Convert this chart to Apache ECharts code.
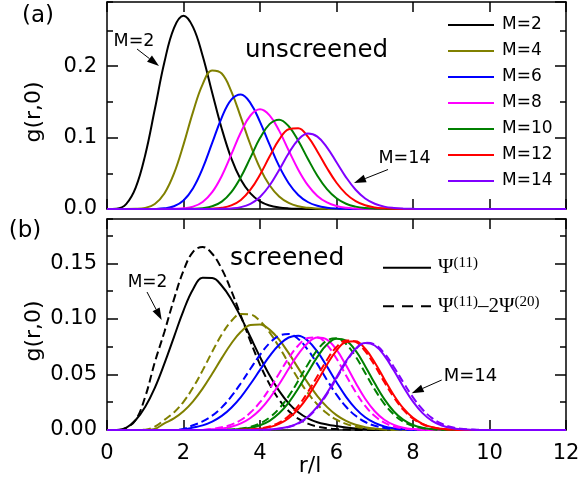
<!DOCTYPE html>
<html><head><meta charset="utf-8">
<script src="https://cdn.jsdelivr.net/npm/echarts@6/dist/echarts.min.js"></script>
<style>html,body{margin:0;padding:0;background:#fff}#c{width:578px;height:483px}</style>
</head><body><div id="c"></div>
<script>
// r/l grid
const r = [0,0.25,0.5,0.75,1,1.25,1.5,1.75,2,2.25,2.5,2.75,3,3.25,3.5,3.75,4,4.25,4.5,4.75,5,5.25,5.5,5.75,6,6.25,6.5,6.75,7,7.25,7.5,7.75,8,8.25,8.5,8.75,9,9.25,9.5,9.75,10,12];

const mNames = ['M=2','M=4','M=6','M=8','M=10','M=12','M=14'];
const colors = ['#000000','#808000','#0000ff','#ff00ff','#008000','#ff0000','#8000ff'];

// (a) unscreened
const a2  = [0,0.0005,0.0069,0.0299,0.0758,0.1397,0.2055,0.2535,0.2707,0.2548,0.2146,0.1629,0.1125,0.0709,0.0410,0.0219,0.0107,0.0049,0.0021,0.0008,0.0003,0,0,0,0,0,0,0,0,0,0,0,0,0,0,0,0,0,0,0,0,0];
const a4  = [0,0,0,0.0002,0.0016,0.0071,0.0217,0.0495,0.0902,0.1361,0.1746,0.1941,0.1898,0.1649,0.1283,0.0900,0.0573,0.0332,0.0175,0.0085,0.0038,0.0016,0.0006,0.0002,0,0,0,0,0,0,0,0,0,0,0,0,0,0,0,0,0,0];
const a6  = [0,0,0,0,0,0.0001,0.0009,0.0039,0.0120,0.0291,0.0568,0.0925,0.1281,0.1533,0.1605,0.1484,0.1221,0.0901,0.0600,0.0361,0.0197,0.0098,0.0045,0.0019,0.0007,0.0003,0,0,0,0,0,0,0,0,0,0,0,0,0,0,0,0];
const a8  = [0,0,0,0,0,0,0,0.0002,0.0009,0.0033,0.0099,0.0236,0.0463,0.0764,0.1075,0.1310,0.1396,0.1312,0.1098,0.0820,0.0551,0.0334,0.0183,0.0092,0.0042,0.0017,0.0007,0.0002,0,0,0,0,0,0,0,0,0,0,0,0,0,0];
const a10 = [0,0,0,0,0,0,0,0,0,0.0002,0.0011,0.0038,0.0104,0.0237,0.0448,0.0720,0.0993,0.1189,0.1251,0.1159,0.0956,0.0704,0.0466,0.0278,0.0150,0.0073,0.0033,0.0013,0.0005,0.0002,0,0,0,0,0,0,0,0,0,0,0,0];
const a12 = [0,0,0,0,0,0,0,0,0,0,0.0001,0.0004,0.0016,0.0050,0.0127,0.0270,0.0481,0.0735,0.0971,0.1117,0.1132,0.1013,0.0807,0.0575,0.0368,0.0212,0.0110,0.0052,0.0022,0.0009,0.0003,0.0001,0,0,0,0,0,0,0,0,0,0];
const a14 = [0,0,0,0,0,0,0,0,0,0,0,0,0.0002,0.0008,0.0026,0.0073,0.0169,0.0329,0.0547,0.0781,0.0971,0.1058,0.1014,0.0864,0.0655,0.0444,0.0270,0.0148,0.0074,0.0033,0.0014,0.0005,0.0002,0,0,0,0,0,0,0,0,0];

// (b) screened, Psi(11) (solid)
const s2  = [0,0,0.002,0.009,0.021,0.038,0.0598,0.0837,0.1076,0.1268,0.137,0.1368,0.1299,0.1176,0.1016,0.0837,0.0658,0.0493,0.0352,0.024,0.016,0.0105,0.007,0.005,0.0035,0.0022,0.0013,0.0007,0.0003,0,0,0,0,0,0,0,0,0,0,0,0,0];
const s4  = [0,0,0,0,0,0.001,0.006,0.0104,0.0168,0.0258,0.0372,0.0506,0.0647,0.0779,0.0884,0.0945,0.0951,0.0904,0.0813,0.0692,0.0557,0.0424,0.0306,0.0208,0.0134,0.0082,0.0047,0.0026,0.0013,0.0006,0.0003,0,0,0,0,0,0,0,0,0,0,0];
const s6  = [0,0,0,0,0,0,0,0,0.0005,0.0022,0.0042,0.0076,0.0127,0.0201,0.0297,0.0414,0.0541,0.0665,0.0768,0.0833,0.0848,0.0804,0.0705,0.0573,0.043,0.0299,0.0193,0.0115,0.0064,0.0032,0.0015,0.0007,0.0003,0,0,0,0,0,0,0,0,0];
const s8  = [0,0,0,0,0,0,0,0,0,0,0,0.0006,0.0014,0.003,0.0059,0.0108,0.0182,0.0285,0.0412,0.0551,0.0683,0.0784,0.0832,0.0814,0.0723,0.0582,0.0425,0.0281,0.0169,0.0092,0.0046,0.002,0.0008,0.0003,0,0,0,0,0,0,0,0];
const s10 = [0,0,0,0,0,0,0,0,0,0,0,0,0,0.0003,0.0009,0.002,0.0043,0.0083,0.015,0.0247,0.0373,0.0518,0.0659,0.0769,0.0822,0.0804,0.0714,0.0575,0.042,0.0278,0.0167,0.0091,0.0045,0.002,0.0008,0.0003,0,0,0,0,0,0];
const s12 = [0,0,0,0,0,0,0,0,0,0,0,0,0,0,0.0002,0.0004,0.0011,0.0026,0.0055,0.0106,0.0188,0.0301,0.0441,0.0588,0.0715,0.0792,0.0799,0.0732,0.0608,0.0458,0.0313,0.0194,0.0109,0.0056,0.0026,0.0011,0.0004,0.0001,0,0,0,0];
const s14 = [0,0,0,0,0,0,0,0,0,0,0,0,0,0,0,0,0.0002,0.0005,0.0013,0.0029,0.0062,0.012,0.021,0.0332,0.0476,0.062,0.0732,0.0783,0.0761,0.067,0.0535,0.0388,0.0255,0.0152,0.0082,0.004,0.0018,0.0007,0.0003,0,0,0];

// (b) screened, Psi(11)-2Psi(20) (dashed)
const d2  = [0,0,0.002,0.009,0.03,0.061,0.0883,0.1176,0.1434,0.1605,0.1648,0.1587,0.145,0.1254,0.1029,0.0799,0.0589,0.0412,0.0273,0.0171,0.0102,0.0057,0.0031,0.0016,0.0008,0.0004,0,0,0,0,0,0,0,0,0,0,0,0,0,0,0,0];
const d4  = [0,0,0,0,0.0003,0.003,0.0091,0.0158,0.0254,0.0382,0.0537,0.0704,0.086,0.0981,0.1044,0.104,0.0981,0.0879,0.0747,0.0602,0.046,0.0334,0.023,0.015,0.0093,0.0055,0.003,0.0016,0.0008,0.0004,0,0,0,0,0,0,0,0,0,0,0,0];
const d6  = [0,0,0,0,0,0,0,0,0.001,0.0043,0.0077,0.0129,0.0204,0.0302,0.0421,0.0551,0.0677,0.0782,0.0848,0.0864,0.082,0.0723,0.0593,0.0451,0.0319,0.0209,0.0128,0.0072,0.0038,0.0019,0.0009,0.0004,0,0,0,0,0,0,0,0,0,0];
const d8  = [0,0,0,0,0,0,0,0,0,0,0,0.0011,0.0024,0.0048,0.009,0.0157,0.025,0.0371,0.0509,0.0647,0.0761,0.0828,0.0834,0.0767,0.0643,0.0491,0.0342,0.0217,0.0125,0.0066,0.0032,0.0014,0.0006,0.0002,0,0,0,0,0,0,0,0];
const d10 = [0,0,0,0,0,0,0,0,0,0,0,0,0,0.0005,0.0013,0.0029,0.006,0.0112,0.0193,0.0305,0.0443,0.059,0.072,0.0806,0.0826,0.0774,0.0661,0.0514,0.0365,0.0236,0.0139,0.0074,0.0036,0.0016,0.0006,0.0002,0,0,0,0,0,0];
const d12 = [0,0,0,0,0,0,0,0,0,0,0,0,0,0,0.0002,0.0006,0.0014,0.0032,0.0067,0.0127,0.0217,0.034,0.0485,0.0631,0.0747,0.0806,0.0793,0.071,0.058,0.0432,0.0293,0.0181,0.0102,0.0052,0.0024,0.001,0.0004,0,0,0,0,0];
const d14 = [0,0,0,0,0,0,0,0,0,0,0,0,0,0,0,0,0.0002,0.0004,0.0012,0.0027,0.0058,0.0114,0.0202,0.0322,0.0465,0.061,0.0727,0.0785,0.077,0.0691,0.0567,0.0427,0.0294,0.0185,0.0107,0.0056,0.0027,0.0012,0.0005,0.0002,0,0];

// axis tick values
const xTicks = [0,2,4,6,8,10,12];
const yTicksA = [0.0,0.1,0.2];
const yTicksB = [0.00,0.05,0.10,0.15];

const unscreened = [a2,a4,a6,a8,a10,a12,a14];
const solidB = [s2,s4,s6,s8,s10,s12,s14];
const dashedB = [d2,d4,d6,d8,d10,d12,d14];
const PSI1 = 'Ψ11', PSI2 = 'Ψ11−2Ψ20';

const FONT = 'DejaVu Sans';
const pts = v => r.map((x, i) => [x, v[i]]);

const series = [];
unscreened.forEach((v, k) => series.push({
  type: 'line', name: mNames[k], xAxisIndex: 0, yAxisIndex: 0, data: pts(v),
  smooth: 0.4, symbol: 'none', showSymbol: false,
  lineStyle: { color: colors[k], width: 2 }, itemStyle: { color: colors[k] }, z: 3 + k
}));
solidB.forEach((v, k) => {
  series.push({
    type: 'line', name: k === 0 ? PSI1 : 'solid ' + mNames[k], xAxisIndex: 2, yAxisIndex: 4, data: pts(v),
    smooth: 0.4, symbol: 'none', showSymbol: false,
    lineStyle: { color: colors[k], width: 2 }, itemStyle: { color: colors[k] }, z: 3 + 2 * k
  });
  series.push({
    type: 'line', name: k === 0 ? PSI2 : 'dashed ' + mNames[k], xAxisIndex: 2, yAxisIndex: 4, data: pts(dashedB[k]),
    smooth: 0.4, symbol: 'none', showSymbol: false,
    lineStyle: { color: colors[k], width: 2, type: [8, 4] }, itemStyle: { color: colors[k] }, z: 4 + 2 * k
  });
});

const axisLine = { show: true, onZero: false, lineStyle: { color: '#000', width: 1.5 } };
function xAx(grid, pos, labels) {
  return {
    type: 'value', gridIndex: grid, position: pos, min: 0, max: 12, interval: 2,
    axisLine, axisTick: { show: true, inside: true, length: 10, lineStyle: { color: '#000', width: 1.5 } },
    axisLabel: { show: labels, color: '#000', fontFamily: FONT, fontSize: 21, margin: 13,
      formatter: v => xTicks.includes(v) ? String(v) : '' },
    splitLine: { show: false }
  };
}
function yAx(grid, pos, max, interval, major, ticks, fmtDigits, name) {
  const o = {
    type: 'value', gridIndex: grid, position: pos, min: 0, max: max, interval: interval,
    axisLine: major ? axisLine : { show: false, onZero: false },
    axisTick: { show: true, inside: true, length: major ? 11 : 6, lineStyle: { color: '#000', width: 1.5 } },
    axisLabel: { show: !!ticks, color: '#000', fontFamily: FONT, fontSize: 21, margin: 10, showMaxLabel: false,
      formatter: v => (ticks && ticks.some(t => Math.abs(t - v) < 1e-9)) ? v.toFixed(fmtDigits) : '' },
    splitLine: { show: false }
  };
  if (name) {
    Object.assign(o, { name: name, nameLocation: 'middle', nameGap: 62, nameRotate: 90, nameMoveOverlap: false,
      nameTextStyle: { color: '#000', fontFamily: FONT, fontSize: 22, padding: [0, 13, 0, 0] } });
  }
  return o;
}

const xAxis = [xAx(0, 'bottom', false), xAx(0, 'top', false), xAx(1, 'bottom', true), xAx(1, 'top', false)];
xAxis[2].name = 'r/l';
xAxis[2].nameLocation = 'middle';
xAxis[2].nameGap = 25;
xAxis[2].nameMoveOverlap = false;
xAxis[2].nameTextStyle = { color: '#000', fontFamily: FONT, fontSize: 22, padding: [0, 53, 0, 0] };

const yAxis = [
  yAx(0, 'left', 0.29, 0.1, true, yTicksA, 1, 'g(r,0)'),
  yAx(0, 'left', 0.29, 0.05, false, null, 1),
  yAx(0, 'right', 0.29, 0.1, true, null, 1),
  yAx(0, 'right', 0.29, 0.05, false, null, 1),
  yAx(1, 'left', 0.19, 0.05, true, yTicksB, 2, 'g(r,0)'),
  yAx(1, 'left', 0.19, 0.025, false, null, 2),
  yAx(1, 'right', 0.19, 0.05, true, null, 2),
  yAx(1, 'right', 0.19, 0.025, false, null, 2)
];

const psiRich = {
  p: { fontFamily: 'Liberation Serif', fontSize: 21, lineHeight: 24, color: '#000' },
  s: { fontFamily: 'Liberation Serif', fontSize: 15, lineHeight: 11, verticalAlign: 'top', color: '#000' }
};
const psiFmt = n => n === PSI1 ? '{p|Ψ}{s|(11)}' : '{p|Ψ}{s|(11)}{p|–2Ψ}{s|(20)}';
const noSymbol = { color: 'transparent', borderColor: 'transparent', borderWidth: 0, opacity: 0 };

const legend = [
  { data: mNames, orient: 'vertical', left: 447, top: 16.5, itemWidth: 46, itemHeight: 14, itemGap: 9, padding: 0,
    itemStyle: noSymbol,
    textStyle: { fontFamily: FONT, fontSize: 17, color: '#000', lineHeight: 17, padding: [0, 0, 0, 3] } },
  { data: [PSI1], orient: 'vertical', left: 382, top: 255.7, itemWidth: 48, itemHeight: 14, padding: 0,
    itemStyle: noSymbol,
    formatter: psiFmt, textStyle: { padding: [0, 0, 0, 2], rich: psiRich } },
  { data: [PSI2], orient: 'vertical', left: 382, top: 294.3, itemWidth: 48, itemHeight: 14, padding: 0,
    itemStyle: noSymbol, lineStyle: { type: [11, 8] },
    formatter: psiFmt, textStyle: { padding: [0, 0, 0, 2], rich: psiRich } }
];

function txt(s, x, y, size, align) {
  return { type: 'text', x: x, y: y, z: 50, style: { text: s, fill: '#000', fontFamily: FONT, fontSize: size, align: align || 'center', verticalAlign: 'middle' } };
}
function arrow(x1, y1, x2, y2) {
  const dx = x2 - x1, dy = y2 - y1, L = Math.hypot(dx, dy), ux = dx / L, uy = dy / L;
  const hl = 12, hw = 4, bx = x2 - hl * ux, by = y2 - hl * uy;
  return [
    { type: 'line', z: 50, shape: { x1: x1, y1: y1, x2: bx, y2: by }, style: { stroke: '#000', lineWidth: 1 } },
    { type: 'polygon', z: 50, shape: { points: [[x2, y2], [bx - hw * uy, by + hw * ux], [bx + hw * uy, by - hw * ux]] }, style: { fill: '#000' } }
  ];
}

const graphic = [
  txt('(a)', 38, 16, 23),
  txt('(b)', 25, 231, 23),
  txt('unscreened', 245, 50.5, 24.5, 'left'),
  txt('screened', 230, 258, 25, 'left'),
  txt('M=2', 134, 41, 17.5),
  txt('M=14', 404.5, 158.5, 17.5),
  txt('M=2', 147.5, 282.5, 17),
  txt('M=14', 470.5, 376.5, 18),
  ...arrow(137, 49, 159, 66),
  ...arrow(388, 169.5, 354, 183),
  ...arrow(147, 292, 161.7, 320),
  ...arrow(441.7, 380, 411.7, 393.3)
];

const chart = echarts.init(document.getElementById('c'), null, { renderer: 'canvas' });
chart.setOption({
  animation: false,
  backgroundColor: '#fff',
  grid: [
    { left: 107, top: 2, right: 12, height: 207, containLabel: false, outerBoundsMode: 'none' },
    { left: 107, top: 219, right: 12, height: 211, containLabel: false, outerBoundsMode: 'none' }
  ],
  xAxis, yAxis, legend, series, graphic
});
</script></body></html>
